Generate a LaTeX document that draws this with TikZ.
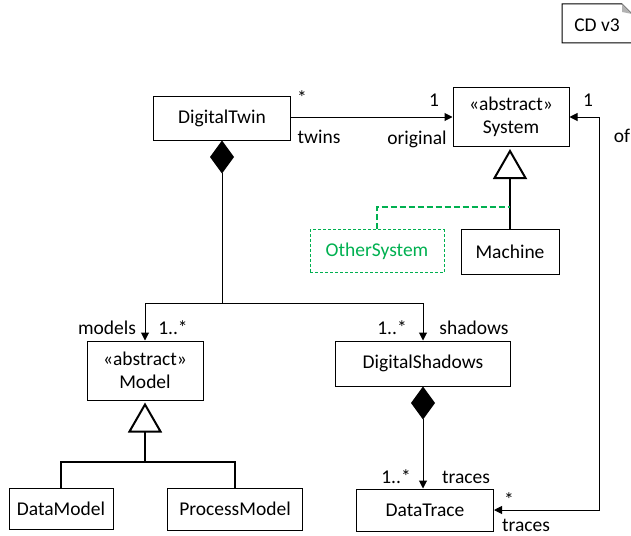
\documentclass[tikz,border=0pt]{standalone}
\usepackage{fontspec}
\setmainfont{Carlito}
\usetikzlibrary{arrows.meta}
\definecolor{umlgreen}{RGB}{0,176,80}

\begin{document}
\begin{tikzpicture}[x=1pt,y=-1pt,
        cls/.style={draw,line width=1pt,inner sep=0pt,align=center,font=\fontsize{19.5}{22.5}\selectfont},
        lbl/.style={inner sep=0pt,font=\fontsize{19.5}{22.5}\selectfont},
        assoc/.style={line width=1pt,-{Triangle[length=8pt,width=8pt]}},
        twoway/.style={line width=1pt,{Triangle[length=8pt,width=8pt]}-{Triangle[length=8pt,width=8pt]}},
        comp/.style={line width=1pt,{Diamond[length=33pt,width=24pt]}-},
        comparrow/.style={line width=1pt,{Diamond[length=33pt,width=24pt]}-{Triangle[length=8pt,width=8pt]}},
        gen/.style={line width=2pt,-{Triangle[open,length=30pt,width=34pt,line width=2pt]},shorten >=2pt},
        genline/.style={line width=2pt},
        realize/.style={umlgreen,line width=2pt,dash pattern=on 6pt off 3pt}]
                \useasboundingbox (0,0) rectangle (631,535);
                \node[cls,minimum width=137pt,minimum height=44pt] (twin) at (222,118) {DigitalTwin};
                \node[cls,minimum width=116pt,minimum height=59pt] (system) at (511,117) {«abstract»\\System};
                \node[cls,umlgreen,densely dashed,minimum width=134pt,minimum height=43pt] (other) at (377,251) {OtherSystem};
                \node[cls,minimum width=98pt,minimum height=45pt] (machine) at (510,251.5) {Machine};
                \node[cls,minimum width=116pt,minimum height=59pt] (model) at (145,370.5) {«abstract»\\Model};
                \node[cls,minimum width=175pt,minimum height=45pt] (shadows) at (423,363.5) {DigitalShadows};
                \node[cls,minimum width=104pt,minimum height=41pt] (datamodel) at (61,509) {DataModel};
                \node[cls,minimum width=135pt,minimum height=42pt] (procmodel) at (235,509) {ProcessModel};
                \node[cls,minimum width=137pt,minimum height=42pt] (trace) at (425,510) {DataTrace};
                \draw[line width=1pt] (562,4) -- (622,4) -- (632,14) -- (632,43) -- (562,43) -- cycle;
                \fill[gray!60] (622,4) -- (632,14) -- (622,12) -- cycle;
                \node[lbl] (version) at (597,25) {CD v3};
                \draw[assoc] (twin.east |- system.west) -- (system.west);
                \draw[twoway] (system.east) -- ++(30,0) |- (trace.east);
                \draw[comp] (twin.south) -- ++(0,163) coordinate (bus);
                \draw[assoc] (bus) -| (model.north);
                \draw[assoc] (bus) -| (shadows.north);
                \draw[comparrow] (shadows.south) -- (shadows.south |- trace.north);
                \draw[gen] (machine.north) -- (machine.north |- system.south);
                \path (machine.north) ++(0,-22) coordinate (join);
                \draw[realize] (other.north) |- (join);
                \path (model.south) ++(0,61) coordinate (mbar);
                \draw[gen] (mbar) -- (model.south);
                \draw[genline] (datamodel.north) |- (mbar) -| (procmodel.north);
                \node[lbl] (twinmult) at (302,98) {*};
                \node[lbl] (twinrole) at (319,137) {twins};
                \node[lbl] (sysmult) at (434,100) {1};
                \node[lbl] (sysrole) at (417,139) {original};
                \node[lbl] (ofmult) at (588,100) {1};
                \node[lbl] (ofrole) at (622,136) {of};
                \node[lbl] (modrole) at (107,328) {models};
                \node[lbl] (modmult) at (173,328) {1..*};
                \node[lbl] (shamult) at (392,328) {1..*};
                \node[lbl] (sharole) at (474,328) {shadows};
                \node[lbl] (tramult) at (396,477) {1..*};
                \node[lbl] (trarole) at (466,477) {traces};
                \node[lbl] (trcmult) at (509,500) {*};
                \node[lbl] (trcrole) at (526,525) {traces};
\end{tikzpicture}
\end{document}
